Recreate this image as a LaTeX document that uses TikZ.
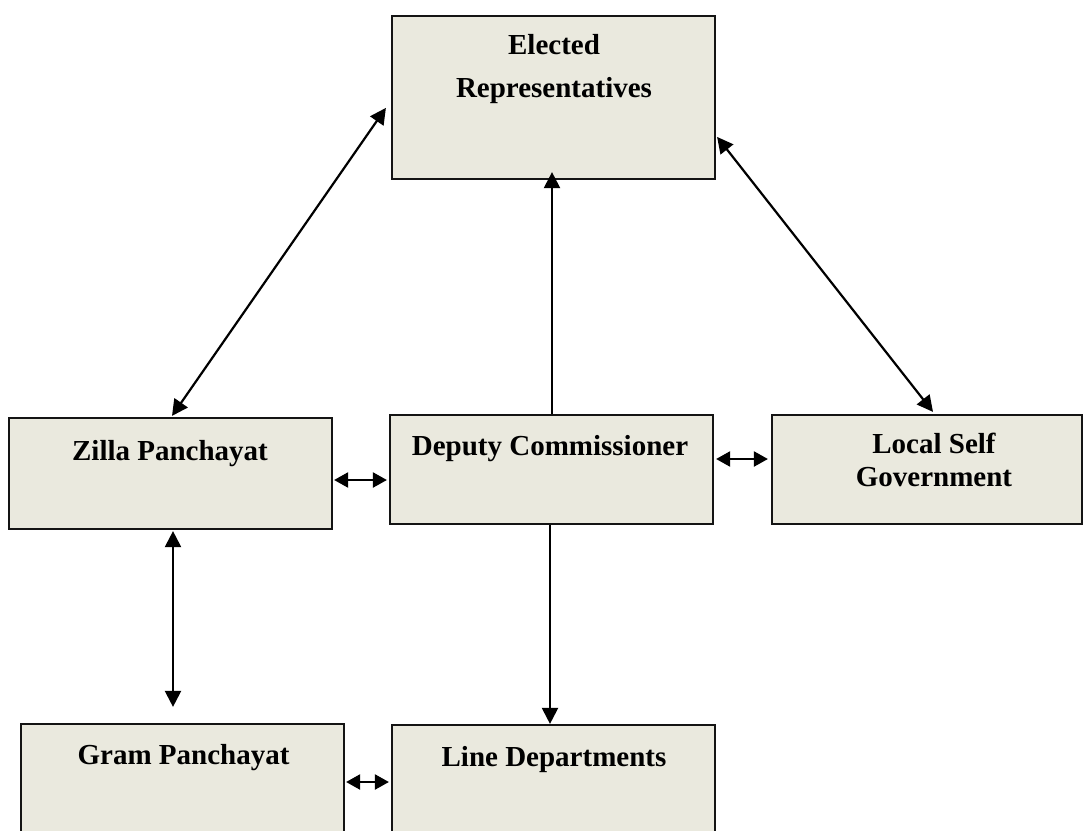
\documentclass[tikz,border=0pt]{standalone}
\usepackage{fontspec}
\setmainfont{Liberation Serif}
\usetikzlibrary{arrows.meta}
\definecolor{boxfill}{RGB}{234,233,222}
\definecolor{boxline}{RGB}{20,20,20}
\tikzset{
  box/.style={draw=boxline, fill=boxfill, line width=2.2pt, rectangle, inner sep=0pt},
  lbl/.style={anchor=base, inner sep=0pt, font=\fontsize{29}{35}\selectfont\bfseries},
  conn/.style={line width=2.2pt, black},
  tipend/.style={-{Triangle[length=16pt,width=16pt]}},
  tipboth/.style={{Triangle[length=16pt,width=16pt]}-{Triangle[length=16pt,width=16pt]}},
  tipsmall/.style={{Triangle[length=14pt,width=15pt]}-{Triangle[length=14pt,width=15pt]}}
}
\begin{document}
\begin{tikzpicture}[x=1pt,y=-1pt]
\useasboundingbox (0,0) rectangle (1084,830);
\clip (0,0) rectangle (1084,830);
% boxes
\node[box, minimum width=323pt, minimum height=163pt] (er) at (553.5,97.5) {};
\node[box, minimum width=323pt, minimum height=111pt] (zp) at (170.5,473.5) {};
\node[box, minimum width=323pt, minimum height=109pt] (dc) at (551.5,469.5) {};
\node[box, minimum width=310pt, minimum height=109pt] (lsg) at (927,469.5) {};
\node[box, minimum width=323pt, minimum height=116pt] (gp) at (182.5,782) {};
\node[box, minimum width=323pt, minimum height=115pt] (ld) at (553.5,782.5) {};
% texts
\node[lbl] (erT1) at (554,54) {Elected};
\node[lbl] (erT2) at (554,97) {Representatives};
\node[lbl] (zpT) at (170,460) {Zilla Panchayat};
\node[lbl] (dcT) at (550,455) {Deputy Commissioner};
\node[lbl] (lsgT1) at (934,453) {Local Self};
\node[lbl] (lsgT2) at (934,486) {Government};
\node[lbl] (gpT) at (183.5,764) {Gram Panchayat};
\node[lbl] (ldT) at (554,766) {Line Departments};
% connectors
\draw[conn,tipboth] ([xshift=-5pt,yshift=-93pt]er.north west) -- ([xshift=1.5pt,yshift=1pt]zp.north);
\draw[conn,tipboth] ([xshift=1pt,yshift=-122pt]er.north east) -- ([xshift=6pt,yshift=2pt]lsg.north);
\draw[conn,tipend] ([xshift=0.5pt]dc.north) -- ([xshift=-1.5pt,yshift=8pt]er.south);
\draw[conn,tipend] ([xshift=-1.5pt]dc.south) -- ([xshift=-3.5pt]ld.north);
\draw[conn,tipsmall] ([xshift=1pt,yshift=-6.5pt]zp.east) -- ([xshift=-2pt,yshift=-10.5pt]dc.west);
\draw[conn,tipsmall] ([xshift=2pt,yshift=10.5pt]dc.east) -- ([xshift=-3pt,yshift=10.5pt]lsg.west);
\draw[conn,tipboth] ([xshift=2.5pt,yshift=-1pt]zp.south) -- ([xshift=-9.5pt,yshift=16pt]gp.north);
\draw[conn,tipsmall] ([xshift=1pt]gp.east) -- ([xshift=-2pt,yshift=0.5pt]ld.west);
\end{tikzpicture}
\end{document}
